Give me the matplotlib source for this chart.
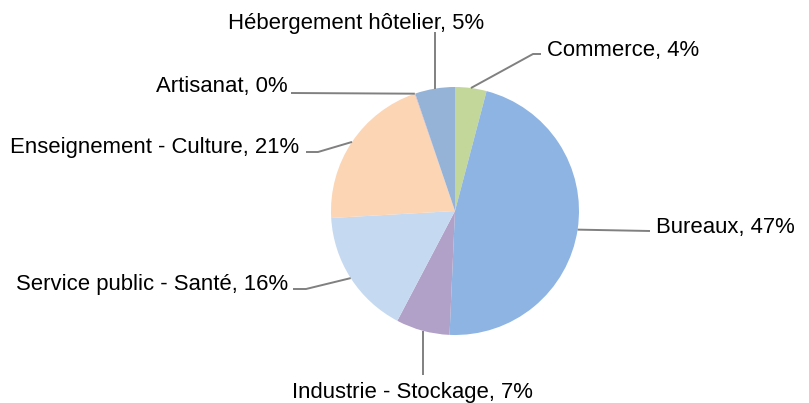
import matplotlib
matplotlib.use("Agg")
import matplotlib.pyplot as plt
import numpy as np

categories = ["Commerce", "Bureaux", "Industrie - Stockage", "Service public - Santé",
              "Enseignement - Culture", "Artisanat", "Hébergement hôtelier"]
values = [4.1, 46.6, 7.0, 16.4, 20.6, 0.1, 5.2]
colors = ["#c4d79b", "#8db4e2", "#b1a0c7", "#c5d9f1", "#fcd5b4", "#e6b9b8", "#95b3d7"]

W, H = 809, 403
plt.rcParams['font.family'] = ['Liberation Sans', 'DejaVu Sans']
fig = plt.figure(figsize=(W / 100, H / 100), dpi=100)
ax = fig.add_axes([0, 0, 1, 1])

cx, cy, R = 455, H - 211, 124
wedges, _ = ax.pie(values, colors=colors, startangle=90, counterclock=False,
                   center=(cx, cy), radius=R, frame=True,
                   wedgeprops=dict(linewidth=0, edgecolor='none'))
ax.set_xlim(0, W)
ax.set_ylim(0, H)
ax.set_aspect('equal')
ax.axis('off')

# layout: (text x, text baseline y (px from top), ha, path points after wedge point)
layout = {
    "Commerce": (547, 56, 'left', [(533, 54), (541, 54)]),
    "Bureaux": (656, 233, 'left', [(650, 231)]),
    "Industrie - Stockage": (412, 398, 'center', None),
    "Service public - Santé": (288, 290, 'right', [(306, 289), (293, 289)]),
    "Enseignement - Culture": (299, 153, 'right', [(318, 152), (306, 152)]),
    "Artisanat": (288, 92, 'right', [(291, 93)]),
    "Hébergement hôtelier": (356.5, 29, 'center', None),
}

lc = "#808080"
for w, name, v in zip(wedges, categories, values):
    ang = np.deg2rad((w.theta1 + w.theta2) / 2)
    x0 = cx + R * np.cos(ang)
    y0 = cy + R * np.sin(ang)
    tx, ty, ha, pts = layout[name]
    if pts is None:
        yend = 32 if ty < 100 else 375
        xs = [x0, x0]
        ys = [y0, H - yend]
    else:
        xs = [x0] + [p[0] for p in pts]
        ys = [y0] + [H - p[1] for p in pts]
    ax.plot(xs, ys, color=lc, lw=1.4, solid_capstyle='butt')
    ax.text(tx, H - ty, f"{name}, {round(v)}%", ha=ha, va='baseline',
            fontsize=15.9, color='black')

fig.savefig("out.png", dpi=100, facecolor='white')
